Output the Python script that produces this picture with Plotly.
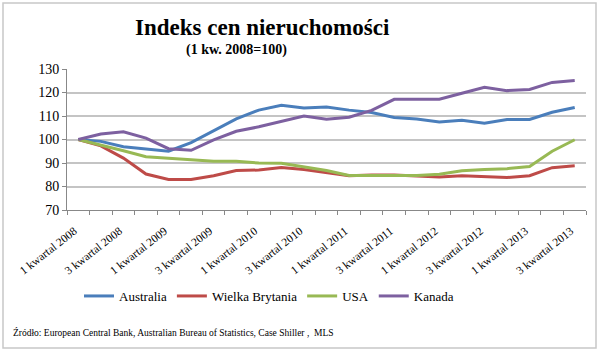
import plotly.graph_objects as go

quarters = [f"{q} kwartal {y}" for y in range(2008, 2014) for q in (1, 2, 3, 4)][:23]
tick_labels = [quarters[i] for i in range(0, 23, 2)]

australia = [100, 99.2, 96.9, 95.8, 95.0, 98.7, 103.6, 108.8, 112.5, 114.6, 113.4, 113.8, 112.5, 111.5,
             109.4, 108.7, 107.5, 108.2, 106.9, 108.5, 108.5, 111.6, 113.6]
wielka_brytania = [100, 97.3, 92.1, 85.3, 83.0, 83.0, 84.6, 86.8, 87.0, 88.1, 87.2, 85.8, 84.6, 84.9,
                   84.9, 84.5, 84.0, 84.6, 84.2, 83.8, 84.6, 88.0, 88.8]
usa = [100, 97.7, 95.2, 92.7, 92.1, 91.4, 90.7, 90.7, 90.0, 89.9, 88.3, 86.8, 84.7, 84.8,
       84.8, 84.7, 85.2, 86.7, 87.2, 87.6, 88.5, 95.0, 99.9]
kanada = [100, 102.3, 103.3, 100.6, 96.1, 95.4, 99.8, 103.5, 105.4, 107.8, 110.0, 108.6, 109.5, 112.4,
          117.1, 117.1, 117.1, 119.7, 122.2, 120.8, 121.3, 124.3, 125.1]

series = [
    ("Australia", australia, "#4a7ebb"),
    ("Wielka Brytania", wielka_brytania, "#be4b48"),
    ("USA", usa, "#98b954"),
    ("Kanada", kanada, "#7d60a0"),
]

x = list(range(len(quarters)))
fig = go.Figure()
for name, vals, col in series:
    fig.add_trace(go.Scatter(x=x, y=vals, name=name, mode="lines",
                             line=dict(color=col, width=3)))

L, R, T, B = 67, 13, 69, 141
W, H = 599, 351
pw, ph = W - L - R, H - T - B
def px(xp): return (xp - L) / pw
def py(yp): return (H - B - yp) / ph

serif = "Liberation Serif"
fig.update_layout(
    width=W, height=H, margin=dict(l=L, r=R, t=T, b=B),
    paper_bgcolor="white", plot_bgcolor="white",
    font=dict(family=serif, color="#000000"),
    showlegend=True,
    legend=dict(orientation="h", x=px(269), xanchor="center", y=py(296), yanchor="middle",
                font=dict(family=serif, size=13), itemwidth=30, tracegroupgap=0),
    xaxis=dict(range=[-0.5, 22.5], tickmode="array", tickvals=list(range(0, 23, 2)),
               ticktext=tick_labels, tickangle=-38, ticks="", showgrid=False,
               showline=True, linecolor="#888888", linewidth=1, zeroline=False,
               ticklabelstandoff=9, ticklabelshift=-4,
               tickfont=dict(family=serif, size=11.5),
               minor=dict(tickmode="linear", tick0=-0.5, dtick=1, ticks="outside",
                          ticklen=4, tickcolor="#888888", showgrid=False)),
    yaxis=dict(range=[70, 130], dtick=10, showgrid=True, gridcolor="#c4c4c4", gridwidth=1.5,
               showline=True, linecolor="#888888", linewidth=1, ticks="outside", ticklen=4,
               tickcolor="#888888", zeroline=False, tickfont=dict(family=serif, size=14)),
    shapes=[dict(type="rect", xref="paper", yref="paper", x0=px(3), x1=px(596), y0=py(348), y1=py(3),
                 line=dict(color="#c8c8c8", width=1.5), fillcolor="rgba(0,0,0,0)", layer="below")],
    annotations=[
        dict(text="<b>Indeks cen nieruchomości</b>", xref="paper", yref="paper", x=px(262), y=py(28),
             xanchor="center", yanchor="middle", showarrow=False, font=dict(family=serif, size=23)),
        dict(text="<b>(1 kw. 2008=100)</b>", xref="paper", yref="paper", x=px(236), y=py(50),
             xanchor="center", yanchor="middle", showarrow=False, font=dict(family=serif, size=14)),
        dict(text="Źródło: European Central Bank, Australian Bureau of Statistics, Case Shiller ,  MLS",
             xref="paper", yref="paper", x=px(11), y=py(332), xanchor="left", yanchor="middle",
             showarrow=False, font=dict(family=serif, size=9.5)),
    ],
)
fig.write_html("out.html")
